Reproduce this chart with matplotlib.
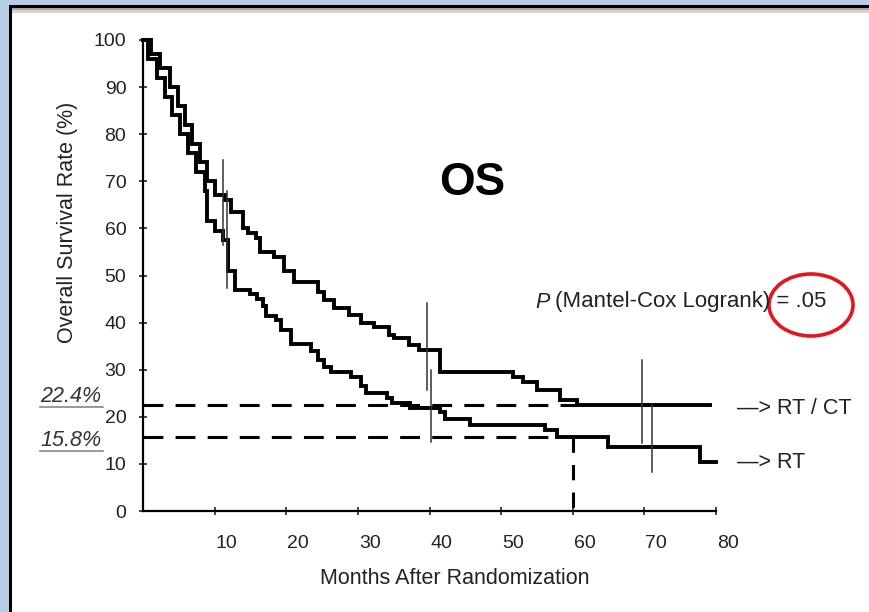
import numpy as np
import matplotlib.pyplot as plt
import matplotlib.transforms as mtransforms
from matplotlib.patches import Rectangle, Ellipse

plt.rcParams['font.family'] = ['Liberation Sans', 'DejaVu Sans']

# Kaplan-Meier step data (months, % surviving), value holds after each time
rtct_months = [0, 1.1, 2.4, 3.8, 4.9, 5.9, 6.9, 8.0, 9.0, 10.1, 11.5, 12.3, 14.0,
               14.6, 15.8, 16.4, 18.3, 19.7, 21.1, 24.4, 25.3, 26.7, 28.7, 30.5,
               32.3, 34.3, 35.1, 37.1, 38.5, 41.5, 51.7, 53.1, 55.0, 58.2, 60.6, 79.2]
rtct_surv = [100, 97, 94, 90, 86, 82, 78, 74, 70, 67, 66, 63.5, 60,
             59, 58, 55, 54, 51, 48.6, 46.5, 44.8, 43, 41.6, 40,
             39, 37.4, 36.7, 35.2, 34.2, 29.5, 28.5, 27.4, 25.7, 23.6, 22.4, 22.4]

rt_months = [0, 0.7, 2.0, 3.1, 4.1, 5.2, 6.3, 7.4, 8.6, 9.0, 10.1, 11.1, 11.9,
             12.9, 15.0, 15.9, 16.7, 17.2, 18.5, 19.3, 20.7, 23.4, 24.4, 25.3,
             26.2, 29.1, 30.5, 31.2, 34.0, 34.7, 37.3, 41.5, 42.2, 45.7, 56.1,
             57.8, 64.9, 77.8, 80.0]
rt_surv = [100, 96, 92, 88, 84, 80, 76, 72, 68, 61.5, 59.5, 57.5, 51,
           47, 46, 45, 43.5, 41.5, 40.5, 38.5, 35.5, 34, 32, 30.5,
           29.5, 28.5, 26.5, 25, 24, 23, 21.9, 21, 19.5, 18.3, 17.2,
           15.8, 13.6, 10.4, 10.4]

# confidence bars at 10, 40 and 70 months: (month, low, high)
ci_bars = [(11.1, 56.5, 74.5), (11.7, 47.3, 68.0),
           (39.6, 25.7, 44.2), (40.2, 14.6, 29.9),
           (69.7, 14.4, 32.0), (71.1, 8.3, 22.5)]

five_year = 60
rtct_5y = 22.4
rt_5y = 15.8

x_ticks = [10, 20, 30, 40, 50, 60, 70, 80]
y_ticks = [0, 10, 20, 30, 40, 50, 60, 70, 80, 90, 100]

W, H = 869, 612
fig = plt.figure(figsize=(W / 100, H / 100), dpi=100)


def fx(px):
    return px / W


def fy(py):
    return 1 - py / H


# slide frame: blue margin, black border, grey shadow
fig.patches.append(Rectangle((0, 0), fx(9), 1, transform=fig.transFigure,
                             facecolor='#b8cce4', edgecolor='none'))
fig.patches.append(Rectangle((0, fy(5)), 1, 5 / H, transform=fig.transFigure,
                             facecolor='#b8cce4', edgecolor='none'))
fig.patches.append(Rectangle((fx(9), 0), 3 / W, fy(5), transform=fig.transFigure,
                             facecolor='black', edgecolor='none'))
fig.patches.append(Rectangle((fx(9), fy(8)), 1, 3 / H, transform=fig.transFigure,
                             facecolor='black', edgecolor='none'))
fig.patches.append(Rectangle((fx(12), fy(10)), 1, 2 / H, transform=fig.transFigure,
                             facecolor='#a8a8a8', edgecolor='none'))
fig.patches.append(Rectangle((fx(12), fy(13)), 1, 3 / H, transform=fig.transFigure,
                             facecolor='#d4d4d4', edgecolor='none'))

ax = fig.add_axes([fx(143), fy(511), fx(716) - fx(143), fy(40) - fy(511)])
ax.set_xlim(0, 80)
ax.set_ylim(0, 100)
for side in ['top', 'right']:
    ax.spines[side].set_visible(False)
for side in ['left', 'bottom']:
    ax.spines[side].set_linewidth(1.6)

ax.set_xticks(x_ticks)
ax.set_yticks(y_ticks)
ax.tick_params(direction='inout', length=6, width=1.2, labelsize=14,
               colors='#222222')
ax.tick_params(axis='x', pad=14)
ax.tick_params(axis='y', pad=9)
# x tick labels sit a little right of their ticks
shift = mtransforms.ScaledTranslation(12 / 100, 0, fig.dpi_scale_trans)
for lbl in ax.get_xticklabels():
    lbl.set_transform(lbl.get_transform() + shift)

ax.step(rtct_months, rtct_surv, where='post', color='black', lw=2.8,
        clip_on=False, solid_joinstyle='miter')
ax.step(rt_months, rt_surv, where='post', color='black', lw=2.8,
        clip_on=False, solid_joinstyle='miter')

for m, lo, hi in ci_bars:
    ax.plot([m, m], [lo, hi], color='#333333', lw=1.1)

# 5-year reference lines
dash = (6.5, 4)
ax.plot([0, five_year + 0.6], [rtct_5y, rtct_5y], color='black', lw=2.2,
        dashes=dash)
ax.plot([0, five_year - 2.5], [rt_5y, rt_5y], color='black', lw=2.2,
        dashes=dash)
ax.plot([five_year, five_year], [rt_5y, 0], color='black', lw=2.2,
        dashes=(5, 4))

# labels
fig.text(fx(455), fy(579), 'Months After Randomization', ha='center',
         va='center', fontsize=15.5, color='#222222')
fig.text(fx(68), fy(222), 'Overall Survival Rate (%)', ha='center',
         va='center', rotation=90, fontsize=15.5, color='#222222')

fig.text(fx(472), fy(183), 'OS', ha='center', va='center', fontsize=33,
         fontweight='bold', color='black')

fig.text(fx(535), fy(302), 'P', ha='left', va='center', fontsize=15.5,
         style='italic', color='#222222')
fig.text(fx(555), fy(302), '(Mantel-Cox Logrank) = .05', ha='left',
         va='center', fontsize=16, color='#222222')
fig.patches.append(Ellipse((8.11, (H - 305) / 100), 0.84, 0.62,
                           transform=fig.dpi_scale_trans, fill=False,
                           edgecolor='#e8141b', lw=2.6))

fig.text(fx(737), fy(408), '\u2014> RT / CT', ha='left', va='center',
         fontsize=15.5, color='#222222')
fig.text(fx(737), fy(462), '\u2014> RT', ha='left', va='center',
         fontsize=15.5, color='#222222')

for txt, py in [('22.4%', 396), ('15.8%', 440)]:
    fig.text(fx(40), fy(py), txt, ha='left', va='center', fontsize=15.5,
             style='italic', color='#333333')
    fig.lines.append(plt.Line2D([fx(40), fx(103)], [fy(py + 11), fy(py + 11)],
                                transform=fig.transFigure, color='#888888',
                                lw=1.2))

fig.savefig('out.png', dpi=100)
plt.close(fig)
